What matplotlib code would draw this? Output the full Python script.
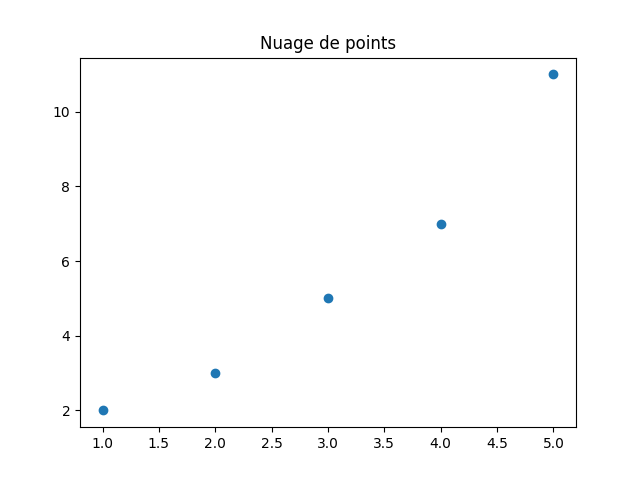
import matplotlib
matplotlib.use('Agg')
import matplotlib.pyplot as plt

x = [1, 2, 3, 4, 5]
y = [2, 3, 5, 7, 11]

fig, ax = plt.subplots(figsize=(6.4, 4.8), dpi=100)
ax.scatter(x, y)
ax.set_title('Nuage de points')

fig.savefig('out.png')
